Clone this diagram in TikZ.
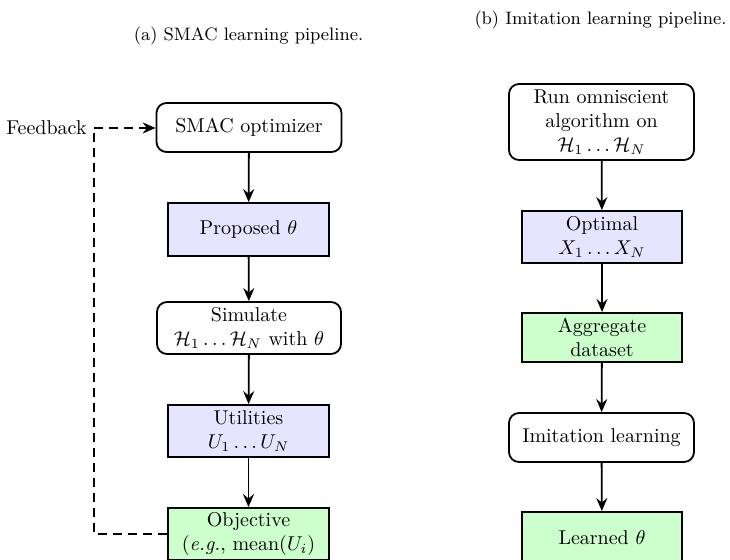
\documentclass[tikz,border=0pt]{standalone}
\usetikzlibrary{arrows.meta}
\begin{document}
\begin{tikzpicture}[x=0.5pt,y=-0.5pt,
  every node/.style={align=center,inner sep=0pt},
  roundbox/.style={draw,line width=0.9pt,rounded corners=5pt,fill=white},
  bluebox/.style={draw,line width=0.9pt,fill=blue!10},
  greenbox/.style={draw,line width=0.9pt,fill=green!20},
  tip/.style={-{Stealth[length=6.5pt,width=5.5pt,inset=2.2pt]}},
  flow/.style={line width=0.9pt,tip},
  fb/.style={line width=0.9pt,dash pattern=on 4.5pt off 3pt}]
\useasboundingbox (0,0) rectangle (730,560);
% captions
\node[font=\small] (capa) at (248.5,36) {(a) SMAC learning pipeline.};
\node[font=\small] (capb) at (600.5,20) {(b) Imitation learning pipeline.};
% left column
\node[roundbox,minimum width=92.5pt,minimum height=24.5pt] (smac) at (249,127.5) {SMAC optimizer};
\node[bluebox,minimum width=80.5pt,minimum height=26.5pt] (prop) at (248.5,229.5) {Proposed $\theta$};
\node[roundbox,minimum width=92pt,minimum height=26pt] (sim) at (249,328) {Simulate\\$\mathcal{H}_1\ldots\mathcal{H}_N$ with $\theta$};
\node[bluebox,minimum width=80.5pt,minimum height=26pt] (util) at (248.5,431) {Utilities\\$U_1\ldots U_N$};
\node[greenbox,minimum width=80.5pt,minimum height=26pt] (obj) at (248.5,534) {Objective\\(\emph{e.g.}, mean$(U_i)$};
\node[anchor=east] (feed) at (87,128) {Feedback};
\coordinate (corner) at (94,128);
\draw[flow] (smac) -- (prop);
\draw[flow] (prop) -- (sim);
\draw[flow] (sim) -- (util);
\draw[flow] (util) -- (obj);
\draw[fb] (obj.west) -| (corner);
\draw[fb,tip] (corner) -- (smac.west |- corner);
% right column
\node[roundbox,minimum width=92.5pt,minimum height=38pt] (run) at (601.5,122) {Run omniscient\\algorithm on\\$\mathcal{H}_1\ldots\mathcal{H}_N$};
\node[bluebox,minimum width=80pt,minimum height=26pt] (opt) at (602,237) {Optimal\\$X_1\ldots X_N$};
\node[greenbox,minimum width=80pt,minimum height=24.5pt] (agg) at (602,337.5) {Aggregate\\dataset};
\node[roundbox,minimum width=92.5pt,minimum height=24.5pt] (imit) at (601.5,437.5) {Imitation learning};
\node[greenbox,minimum width=80pt,minimum height=26pt] (learn) at (602,538) {Learned $\theta$};
\draw[flow] (run) -- (opt);
\draw[flow] (opt) -- (agg);
\draw[flow] (agg) -- (imit);
\draw[flow] (imit) -- (learn);
\end{tikzpicture}
\end{document}
